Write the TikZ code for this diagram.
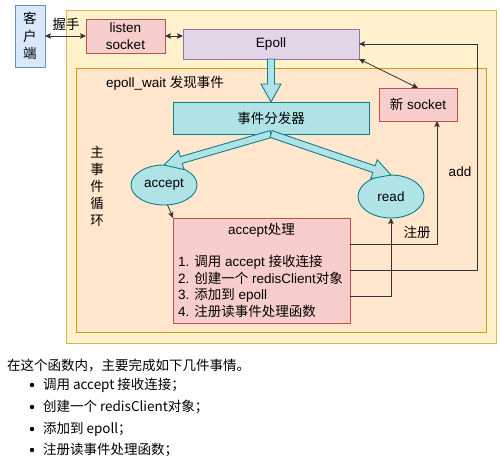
\documentclass[tikz,border=0pt]{standalone}
\usepackage{fontspec}
\setmainfont{Liberation Sans}
\newfontfamily\cjk{Noto Sans CJK SC}
\usetikzlibrary{calc,arrows.meta,shapes.geometric}
\newcommand\dfont{\fontsize{13.5}{16}\selectfont}
\definecolor{blueF}{HTML}{DAE8FC}\definecolor{blueD}{HTML}{6C8EBF}
\definecolor{redF}{HTML}{F8CECC}\definecolor{redD}{HTML}{B85450}
\definecolor{purF}{HTML}{E1D5E7}\definecolor{purD}{HTML}{9673A6}
\definecolor{cyF}{HTML}{B0E3E6}\definecolor{cyD}{HTML}{0E8088}
\definecolor{yelF}{HTML}{FFF2CC}\definecolor{yelD}{HTML}{D6B656}
\definecolor{orF}{HTML}{FFE6CC}\definecolor{orD}{HTML}{D79B00}
\definecolor{lineC}{HTML}{333333}
\tikzset{
  base/.style={draw, line width=0.9pt, inner sep=0pt, outer sep=0pt, font=\dfont, align=center},
  bluebox/.style={base, fill=blueF, draw=blueD},
  redbox/.style={base, fill=redF, draw=redD},
  purbox/.style={base, fill=purF, draw=purD},
  cybox/.style={base, fill=cyF, draw=cyD},
  cyell/.style={base, ellipse, fill=cyF, draw=cyD},
  lbl/.style={inner sep=0pt, outer sep=0pt, font=\dfont, align=center},
  vcjk/.style={font={\cjk\fontsize{13.5}{17.5}\selectfont}},
  txt/.style={inner sep=0pt, outer sep=0pt, font=\dfont, anchor=west},
  btxt/.style={inner sep=0pt, outer sep=0pt, font=\cjk\fontsize{13.5}{16}\selectfont, anchor=west},
  conn/.style={line width=0.8pt, draw=lineC, -{Stealth[length=6pt,width=5.5pt,inset=1.2pt]}},
  conn2/.style={line width=0.8pt, draw=lineC, {Stealth[length=6pt,width=5.5pt,inset=1.2pt]}-{Stealth[length=6pt,width=5.5pt,inset=1.2pt]}},
  fatarr/.style={fill=cyF, draw=cyD, line width=0.9pt, line join=miter},
}
\newcommand\fatarrow[2]{%
  \coordinate (faH) at ($(#2)!18pt!(#1)$);
  \filldraw[fatarr] ($(#1)!3.5pt!90:(#2)$) -- ($(faH)!3.5pt!90:(#2)$) -- ($(faH)!10pt!90:(#2)$)
    -- (#2) -- ($(faH)!10pt!-90:(#2)$) -- ($(faH)!3.5pt!-90:(#2)$) -- ($(#1)!3.5pt!-90:(#2)$) -- cycle;
}
\begin{document}
\begin{tikzpicture}[x=1pt,y=-1pt]
\path[use as bounding box, fill=white] (0,0) rectangle (500,463);
% containers
\draw[fill=yelF, draw=yelD, line width=0.9pt] (66,10) rectangle (496,343);
\draw[fill=orF, draw=orD, line width=0.9pt] (76,68) rectangle (486,332);
% nodes
\node[bluebox, vcjk, minimum width=30pt, minimum height=62pt] (client) at (30,36)
  {客\\户\\端};
\node[redbox, font={\fontsize{13.5}{17}\selectfont}, minimum width=79pt, minimum height=34pt] (listen) at (125.5,36)
  {listen\\socket};
\node[purbox, minimum width=176pt, minimum height=30pt] (epoll) at (271,44) {Epoll};
\node[redbox, minimum width=78pt, minimum height=33pt] (nsock) at (418,104.5) {{\cjk 新} socket};
\node[cybox, minimum width=196pt, minimum height=32pt] (disp) at (271,118) {\cjk 事件分发器};
\node[cyell, minimum width=66pt, minimum height=40pt] (accept) at (164,185) {accept};
\node[cyell, minimum width=66pt, minimum height=43pt] (read) at (391,196.5) {read};
\node[redbox, minimum width=177pt, minimum height=105pt] (accbox) at (261.5,270.5) {};
\node[lbl] (acct) at (261.5,230) {accept{\cjk 处理}};
\node[txt] (l1) at (178,262) {1. {\cjk 调用} accept {\cjk 接收连接}};
\node[txt] (l2) at (178,278.5) {2. {\cjk 创建一个} redisClient{\cjk 对象}};
\node[txt] (l3) at (178,295) {3. {\cjk 添加到} epoll};
\node[txt] (l4) at (178,311.5) {4. {\cjk 注册读事件处理函数}};
% labels
\node[lbl] (hs) at (66,24) {\cjk 握手};
\node[lbl] (ew) at (165,83) {epoll\_wait {\cjk 发现事件}};
\node[lbl, vcjk, font={\cjk\fontsize{13.5}{17}\selectfont}] (loop) at (97,186.5) {主\\事\\件\\循\\环};
\node[lbl] (add) at (460,172) {add};
\node[lbl] (reg) at (417,232) {\cjk 注册};
% fat arrows
\fatarrow{epoll.south}{disp.north}
\fatarrow{disp.south}{accept.north}
\fatarrow{disp.south}{read.north}
% connectors
\draw[conn2] (client.east) -- (listen.west);
\draw[conn2] (listen.east) -- (listen.east -| epoll.west);
\draw[conn2] (epoll.south east) -- (nsock.north);
\draw[conn] (accept.-80) -- (accbox.north west);
\coordinate (rt) at (477,44);
\draw[conn] ([yshift=-26pt]accbox.north east) -| ([xshift=19pt]nsock.south);
\draw[conn] ([yshift=-52pt]accbox.north east) -| (rt) -- (epoll.east);
\draw[conn] ([yshift=-78pt]accbox.north east) -| (read.south);
% bottom text
\node[btxt] (t0) at (7,365) {在这个函数内，主要完成如下几件事情。};
\fill (32,385) circle (2.2pt);
\fill (32,407) circle (2.2pt);
\fill (32,429) circle (2.2pt);
\fill (32,450) circle (2.2pt);
\node[btxt] (b1) at (43,385) {调用 accept 接收连接；};
\node[btxt] (b2) at (43,407) {创建一个 redisClient对象；};
\node[btxt] (b3) at (43,429) {添加到 epoll；};
\node[btxt] (b4) at (43,450) {注册读事件处理函数；};
\end{tikzpicture}
\end{document}
